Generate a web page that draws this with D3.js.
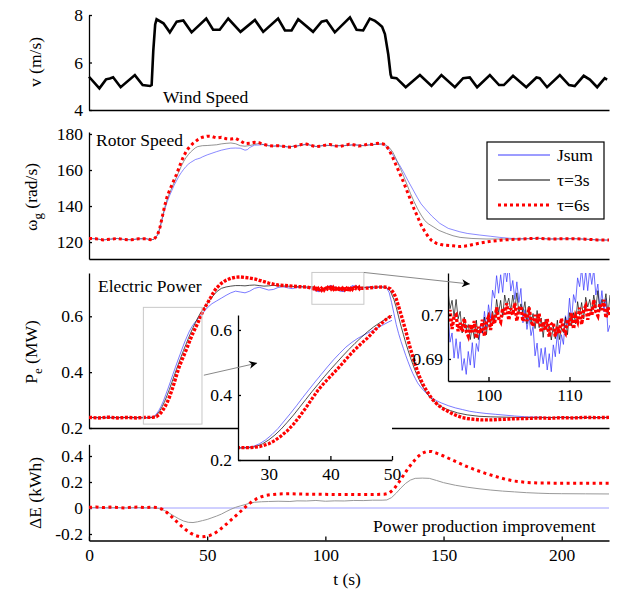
<!DOCTYPE html>
<html>
<head>
<meta charset="utf-8">
<script src="https://cdn.jsdelivr.net/npm/d3@7"></script>
<style>
  body { margin: 0; background: #fff; }
  text { font-family: "Liberation Serif", "Times New Roman", serif; font-size: 17.5px; fill: #000; }
  .axis path, .axis line { stroke: #000; stroke-width: 1.3; }
  .axis text { font-family: "Liberation Serif", "Times New Roman", serif; font-size: 17.5px; }
</style>
</head>
<body>
<svg id="chart" width="621" height="589"></svg>
<script>
// ---- data: [t (s), value] ----
const windSpeed = [[0,5.40],[4.4,4.91],[7.2,5.29],[8.8,5.33],[10.2,5.38],[13.4,4.96],[19.4,5.47],[22.7,5.05],[25.8,5.01],[26.5,5.05],[27.2,6.5],[28.0,7.6],[28.6,7.82],[31.5,7.65],[34.2,7.27],[37.1,7.72],[39.9,7.77],[43.4,7.27],[49.6,7.85],[52.5,7.38],[55.3,7.38],[58.9,7.85],[64.1,7.29],[70.2,7.79],[73.7,7.29],[80.0,7.85],[82.9,7.35],[85.7,7.35],[88.5,7.82],[94.8,7.29],[98.4,7.72],[100.5,7.77],[104.0,7.27],[110.4,7.90],[113.2,7.38],[116.0,7.35],[118.8,7.85],[121.0,7.75],[122.3,7.65],[124.0,7.50],[125.2,7.20],[126.6,6.35],[127.6,5.50],[128.0,5.37],[130.1,5.34],[134.0,4.96],[140.0,5.47],[144.9,5.01],[149.1,5.47],[154.8,4.96],[158.3,5.34],[161.1,5.37],[164.2,4.96],[169.6,5.47],[173.5,5.05],[175.5,5.05],[179.4,5.44],[185.0,4.96],[189.3,5.37],[190.7,5.34],[193.8,4.96],[199.2,5.47],[203.1,5.05],[205.5,5.01],[209.3,5.44],[211.9,5.28],[215.0,4.96],[218.2,5.34],[219.2,5.28]];

const rotorJsum = [[0,122.0],[3,121.8],[6,121.2],[9,121.6],[12,122.0],[15,121.4],[18,121.3],[21,121.8],[24,121.9],[26,121.3],[27.5,121.5],[29,123.8],[30,127.5],[31,133],[32,138],[33,142],[34,145.5],[35,148.5],[36,151.5],[37,154],[38,156.5],[39,158.5],[40,160.3],[41,161.9],[42,163.2],[43,164.2],[44,165],[45,165.8],[46,166.2],[47,166.6],[48,167.3],[50,168.4],[52,169.3],[54,170.2],[56,171],[58,171.6],[60,172.1],[62,172.2],[64,172.1],[66,171.0],[67,171.3],[68,172.5],[70,173.8],[72,173.9],[74,174.2],[76,173.6],[78,173.3],[80,173.5],[84,172.8],[88,173.4],[92,174.4],[96,173.0],[100,173.8],[104,173.4],[108,173.6],[112,174.0],[116,173.6],[120,174.2],[124,174.4],[125,173.8],[126.5,172],[128,169.5],[129.5,166.5],[131.5,162.5],[133,159],[135,154],[137.1,149],[139,144.5],[140.5,141.2],[142.7,137.8],[145,134.5],[148.4,130.4],[152,127.6],[156.9,125.7],[160,124.8],[165.3,123.9],[170,123.2],[173.8,122.6],[178,122.1],[182,121.8],[186,121.9],[190,122.1],[195,121.7],[200,121.8],[205,121.9],[210,121.6],[215,121.2],[220,121.1]];
const rotorTau3 = [[0,122.0],[3,121.8],[6,121.2],[9,121.6],[12,122.0],[15,121.4],[18,121.3],[21,121.8],[24,121.9],[26,121.3],[27.5,121.5],[29,124],[30,128],[31,133.5],[32,139],[33,143.5],[34,147],[35,150],[36,153],[37,156],[38,159],[39,162],[40,164.6],[41,166.8],[42,168.5],[43,170],[44,171.2],[45,172.3],[46,173.0],[48,173.5],[50,173.6],[52,173.8],[54,174.0],[56,174.5],[58,174.8],[60,175.0],[62,174.6],[64,173.5],[66,173.2],[68,173.6],[70,174.2],[72,174.8],[74,174.0],[76,173.4],[78,173.2],[80,173.4],[84,172.9],[88,173.3],[92,174.2],[96,173.1],[100,173.7],[104,173.5],[108,173.5],[112,174.0],[116,173.5],[120,174.1],[124,174.5],[125.5,174.0],[127,172.5],[128.5,170],[130,166],[131.5,161.5],[133,157],[134.5,152],[136,147],[137.5,142.5],[139,138.5],[140.5,135],[142,132],[143.5,130.2],[145.6,128.5],[148,126.5],[151.2,124.8],[154,123.5],[157,122.6],[162,122.0],[168,121.7],[174,121.7],[180,121.6],[186,121.9],[190,122.1],[195,121.7],[200,121.8],[205,121.9],[210,121.6],[215,121.2],[220,121.1]];
const rotorTau6 = [[0,122.0],[3,121.8],[6,121.2],[9,121.6],[12,122.0],[15,121.4],[18,121.3],[21,121.8],[24,121.9],[26,121.3],[27.5,121.5],[29,124],[30,128],[31,134],[32,140],[33,145],[34,148.5],[35,151.5],[36,154.5],[37,157.5],[38,161],[39,164.5],[40,167.5],[41,170],[42,172],[43,173.5],[44,174.8],[45,175.8],[46,176.8],[47,177.6],[48,178.2],[50,178.8],[52,178.6],[54,177.8],[56,178.2],[58,177.4],[60,177.2],[62,177.6],[64,176.2],[66,174.6],[68,174.8],[70,175.4],[72,175.1],[74,174.2],[76,173.6],[78,173.3],[80,173.5],[82,173.2],[84,172.8],[86,172.6],[88,173.4],[90,174.2],[92,174.4],[94,173.6],[96,173.0],[98,173.2],[100,173.8],[102,174.2],[104,173.4],[106,173.1],[108,173.6],[110,174.3],[112,174.0],[114,173.3],[116,173.6],[118,174.4],[120,174.2],[122,174.8],[124,174.6],[125.5,174.0],[127,171],[128.5,167],[130,162.5],[131.5,158],[133,153.5],[134.5,148.5],[136,143.5],[137.5,138.5],[139,134],[140.5,129.5],[142,126],[143.5,123],[145,120.8],[147,119.3],[149,118.6],[151,118.2],[154,117.9],[157,117.5],[160,117.9],[163,118.8],[166,119.6],[170,120.4],[174,121.0],[178,121.4],[182,121.6],[186,121.9],[190,122.1],[195,121.7],[200,121.8],[205,121.9],[210,121.6],[215,121.2],[220,121.1]];

// electric power, before and after the zoomed plateau
const powerJsumA = [[0,0.238],[4,0.236],[8,0.239],[12,0.236],[16,0.238],[20,0.236],[24,0.237],[26,0.238],[27.5,0.242],[28.5,0.250],[29.5,0.262],[30.5,0.278],[31.5,0.297],[32.5,0.320],[33.5,0.343],[34.5,0.367],[35.5,0.392],[36.5,0.416],[37.5,0.440],[38.5,0.463],[39.5,0.486],[40.5,0.508],[41.5,0.528],[42.5,0.547],[43.5,0.562],[44.5,0.575],[45.5,0.585],[46.5,0.595],[47.5,0.605],[48.5,0.615],[49.5,0.625],[50.5,0.634],[52,0.645],[54,0.655],[56,0.665],[58,0.675],[60,0.684],[62,0.690],[64,0.687],[66,0.684],[68,0.690],[70,0.700],[72,0.704],[74,0.699],[76,0.694],[78,0.696],[80,0.703],[82,0.706],[84,0.702],[86,0.699],[88,0.703],[90,0.706],[92,0.702]];
const powerJsumB = [[117,0.703],[119,0.707],[121,0.700],[123,0.706],[125,0.704],[126,0.700],[127,0.685],[128,0.650],[129,0.610],[130,0.570],[131,0.538],[132,0.510],[133,0.485],[134,0.460],[135,0.437],[136,0.415],[137,0.395],[138,0.378],[139,0.362],[140,0.350],[141.5,0.335],[143,0.322],[145,0.308],[147,0.298],[149,0.290],[152,0.280],[155,0.272],[158,0.266],[161,0.260],[164,0.256],[168,0.252],[172,0.249],[176,0.246],[180,0.243],[185,0.240],[190,0.239],[195,0.237],[200,0.238],[205,0.236],[210,0.238],[215,0.237],[220,0.238]];
const powerTau3A = [[0,0.237],[4,0.238],[8,0.236],[12,0.238],[16,0.237],[20,0.238],[24,0.236],[27,0.238],[28,0.242],[29,0.250],[30,0.262],[31,0.277],[32,0.295],[33,0.316],[34,0.338],[35,0.362],[36,0.386],[37,0.410],[38,0.433],[39,0.456],[40,0.478],[41,0.499],[42,0.520],[43,0.540],[44,0.559],[45,0.577],[46,0.594],[47,0.609],[48,0.622],[49,0.634],[50,0.645],[52,0.668],[54,0.688],[56,0.700],[58,0.705],[60,0.708],[62,0.710],[64,0.710],[66,0.709],[68,0.711],[70,0.712],[72,0.710],[74,0.708],[76,0.709],[78,0.711],[80,0.709],[84,0.708],[88,0.706],[92,0.705]];
const powerTau3B = [[118,0.703],[121,0.705],[124,0.705],[126,0.703],[127.5,0.690],[129,0.660],[130,0.632],[131,0.598],[132,0.565],[133,0.535],[134,0.505],[135,0.478],[136,0.452],[137,0.428],[138,0.405],[139,0.385],[140,0.367],[141,0.351],[142,0.337],[143,0.324],[144,0.313],[146,0.296],[148,0.282],[150,0.272],[153,0.262],[156,0.254],[160,0.247],[165,0.242],[170,0.240],[180,0.238],[190,0.237],[200,0.238],[210,0.237],[220,0.238]];
const powerTau6A = [[0,0.238],[4,0.236],[8,0.239],[12,0.236],[16,0.238],[20,0.236],[24,0.238],[27,0.238],[28.5,0.241],[30,0.250],[31,0.260],[32,0.274],[33,0.290],[34,0.310],[35,0.334],[36,0.360],[37,0.388],[38,0.415],[39,0.437],[40,0.457],[41,0.477],[42,0.498],[43,0.520],[44,0.540],[45,0.558],[46,0.575],[47,0.595],[48,0.615],[49,0.632],[50,0.645],[51,0.660],[52,0.675],[53,0.690],[54,0.702],[56,0.718],[58,0.729],[60,0.736],[62,0.740],[64,0.741],[66,0.739],[68,0.737],[70,0.734],[72,0.729],[74,0.724],[76,0.719],[78,0.715],[80,0.712],[83,0.710],[86,0.708],[89,0.706],[92,0.705]];
const powerTau6B = [[118,0.701],[121,0.704],[124,0.705],[126,0.704],[127.5,0.698],[129,0.683],[130,0.662],[131,0.635],[132,0.607],[133,0.578],[134,0.548],[135,0.515],[136,0.484],[137,0.455],[138,0.428],[139,0.403],[140,0.380],[141,0.361],[142,0.345],[143,0.332],[144,0.318],[145,0.306],[146,0.296],[147,0.288],[148,0.280],[150,0.268],[152,0.259],[154,0.250],[156,0.243],[158,0.237],[160,0.234],[163,0.231],[166,0.229],[170,0.229],[175,0.231],[180,0.233],[185,0.234],[190,0.236],[195,0.235],[200,0.237],[205,0.236],[210,0.238],[215,0.237],[220,0.238]];

// plateau 95..115 s sampled every 0.25 s (zoom inset)
const zoomT = d3.range(95, 115.001, 0.25);
const zoomJsum = [0.7002,0.6938,0.6959,0.6902,0.6946,0.6901,0.6939,0.6874,0.6901,0.6865,0.6917,0.6886,0.6937,0.6880,0.6935,0.6917,0.6975,0.6958,0.7008,0.6968,0.7023,0.6992,0.7056,0.7038,0.7089,0.7049,0.7091,0.7051,0.7109,0.7075,0.7118,0.7054,0.7078,0.7035,0.7075,0.7028,0.7060,0.6982,0.7012,0.6967,0.6997,0.6953,0.6974,0.6907,0.6936,0.6881,0.6924,0.6889,0.6926,0.6875,0.6912,0.6871,0.6932,0.6905,0.6960,0.6912,0.6955,0.6933,0.6998,0.6978,0.7038,0.6987,0.7046,0.7028,0.7084,0.7064,0.7106,0.7056,0.7099,0.7055,0.7103,0.7069,0.7103,0.7045,0.7070,0.7013,0.7055,0.7007,0.7037,0.6962,0.6977];
const zoomTau3 = [0.7055,0.7014,0.7033,0.6996,0.7035,0.6991,0.7008,0.6959,0.6995,0.6966,0.6978,0.6944,0.6975,0.6946,0.6988,0.6944,0.6970,0.6960,0.6995,0.6955,0.7005,0.6976,0.7008,0.6984,0.7035,0.7004,0.7033,0.6996,0.7045,0.7021,0.7038,0.7009,0.7045,0.7013,0.7050,0.7003,0.7025,0.7005,0.7030,0.6980,0.7020,0.6981,0.7003,0.6969,0.7010,0.6971,0.6993,0.6949,0.6990,0.6963,0.6975,0.6943,0.6975,0.6946,0.6988,0.6944,0.6970,0.6960,0.6995,0.6955,0.7005,0.6975,0.7005,0.6980,0.7030,0.6999,0.7028,0.6991,0.7040,0.7018,0.7035,0.7008,0.7045,0.7015,0.7055,0.7010,0.7035,0.7019,0.7048,0.7001,0.7045];
const zoomTau6 = [0.6985,0.7011,0.6968,0.6996,0.7000,0.6963,0.6982,0.6962,0.6992,0.6963,0.6952,0.6978,0.6961,0.6986,0.6947,0.6973,0.6958,0.6989,0.6952,0.6985,0.6995,0.6966,0.6992,0.6979,0.7017,0.6992,0.6984,0.7015,0.7001,0.7026,0.6988,0.7015,0.7000,0.7027,0.6986,0.7014,0.7020,0.6985,0.7004,0.6986,0.7017,0.6987,0.6974,0.7000,0.6981,0.7003,0.6960,0.6984,0.6965,0.6991,0.6950,0.6978,0.6983,0.6951,0.6973,0.6958,0.6992,0.6967,0.6959,0.6990,0.6976,0.7004,0.6968,0.6997,0.6985,0.7016,0.6978,0.7011,0.7020,0.6989,0.7013,0.6998,0.7034,0.7007,0.6998,0.7026,0.7011,0.7034,0.6993,0.7017,0.7000];

// energy difference (kWh)
const energyJsum = [[0,0],[220,0]];
const energyTau3 = [[0,0.003],[4,0.005],[8,0.002],[12,0.004],[16,0.001],[20,0.004],[24,0.002],[28,0.001],[30,-0.005],[32,-0.020],[34,-0.040],[36,-0.062],[38,-0.083],[40,-0.100],[42,-0.110],[44,-0.112],[46,-0.106],[48,-0.097],[50,-0.088],[52,-0.075],[54,-0.062],[56,-0.047],[58,-0.028],[60,-0.010],[62,0.005],[64,0.016],[66,0.026],[68,0.037],[70,0.044],[73,0.048],[76,0.050],[80,0.052],[85,0.050],[88,0.055],[92,0.054],[96,0.058],[100,0.052],[104,0.055],[108,0.054],[112,0.058],[116,0.057],[120,0.060],[124,0.060],[126,0.062],[128,0.080],[130,0.115],[132,0.155],[134,0.190],[136,0.215],[138,0.228],[141,0.230],[144,0.228],[147,0.212],[150,0.195],[155,0.175],[160,0.160],[165,0.148],[170,0.138],[175,0.130],[180,0.124],[185,0.118],[190,0.114],[195,0.111],[200,0.110],[210,0.109],[220,0.108]];
const energyTau6 = [[0,0.005],[3,0.008],[6,0.003],[9,0.007],[12,0.004],[15,0.000],[18,0.006],[21,0.007],[24,0.003],[27,0.006],[29,0.004],[31,-0.010],[33,-0.035],[35,-0.068],[37,-0.103],[39,-0.137],[41,-0.168],[43,-0.193],[45,-0.212],[47,-0.222],[49,-0.220],[51,-0.212],[53,-0.196],[55,-0.172],[57,-0.142],[59,-0.110],[61,-0.078],[63,-0.045],[65,-0.012],[67,0.022],[69,0.050],[71,0.072],[73,0.087],[75,0.097],[77,0.103],[80,0.108],[85,0.110],[90,0.107],[95,0.106],[100,0.105],[105,0.104],[110,0.104],[115,0.103],[120,0.103],[125,0.106],[127,0.115],[129,0.145],[131,0.195],[133,0.250],[135,0.305],[137,0.352],[139,0.393],[141,0.422],[143,0.436],[145,0.434],[147,0.422],[150,0.400],[153,0.375],[156,0.350],[160,0.318],[164,0.290],[168,0.265],[172,0.243],[176,0.222],[180,0.207],[185,0.197],[190,0.192],[200,0.191],[210,0.191],[220,0.191]];

const xTicks = [0, 50, 100, 150, 200];
const legendLabels = ['Jsum', 'τ=3s', 'τ=6s'];

// ---- build full power series ----
const zip = vals => zoomT.map((t, i) => [t, vals[i]]);
const powerJsum = powerJsumA.concat(zip(zoomJsum), powerJsumB);
const powerTau3 = powerTau3A.concat(zip(zoomTau3), powerTau3B);
const powerTau6 = powerTau6A.concat(zip(zoomTau6), powerTau6B);

const svg = d3.select('#chart');
const x = d3.scaleLinear().domain([0, 220]).range([89, 609]);

const blue = '#3b3bff', red = '#ff0000';

svg.append('defs').append('marker')
    .attr('id', 'arrow').attr('viewBox', '0 0 10 10')
    .attr('refX', 10).attr('refY', 5)
    .attr('markerWidth', 11).attr('markerHeight', 8)
    .attr('markerUnits', 'userSpaceOnUse')
    .attr('orient', 'auto')
  .append('path').attr('d', 'M0,0 L10,5 L0,10 L3,5 Z').attr('fill', '#000');

function clip(id, x0, y0, w, h) {
  svg.select('defs').append('clipPath').attr('id', id)
    .append('rect').attr('x', x0).attr('y', y0).attr('width', w).attr('height', h);
}

function drawLine(g, data, xs, ys, color, width, dash, opacity) {
  g.append('path')
    .datum(data)
    .attr('fill', 'none')
    .attr('stroke', color)
    .attr('stroke-width', width)
    .attr('stroke-dasharray', dash || null)
    .attr('stroke-opacity', opacity || 1)
    .attr('d', d3.line().x(d => xs(d[0])).y(d => ys(d[1])));
}

function axes(g, xs, ys, yTicks, opts) {
  const fmt = d => String(d);
  const bottom = ys.range()[0], left = xs.range()[0];
  g.append('g').attr('class', 'axis')
    .attr('transform', `translate(0,${bottom})`)
    .call(d3.axisBottom(xs).tickValues(opts.xTicks || []).tickSize(-4).tickSizeOuter(0).tickPadding(8).tickFormat(fmt));
  g.append('g').attr('class', 'axis')
    .attr('transform', `translate(${left},0)`)
    .call(d3.axisLeft(ys).tickValues(yTicks).tickSize(-3).tickSizeOuter(0).tickPadding(opts.pad || 6).tickFormat(fmt));
  g.selectAll('.axis text').attr('fill', '#000');
}

function yTitle(cx, cy, parts) {
  const t = svg.append('text')
    .attr('transform', `translate(${cx},${cy}) rotate(-90)`)
    .attr('text-anchor', 'middle');
  parts.forEach(p => {
    t.append('tspan').text(p.s)
      .attr('dy', p.dy || 0)
      .style('font-size', p.size ? p.size + 'px' : null);
  });
}

// ---- panel 1: wind speed ----
const y1 = d3.scaleLinear().domain([4, 8]).range([110, 15]);
const p1 = svg.append('g');
axes(p1, x, y1, [4, 6, 8], {});
drawLine(p1, windSpeed, x, y1, '#000', 2.6);
p1.append('text').attr('x', 163).attr('y', 103).text('Wind Speed');
yTitle(41, 62, [{s: 'v (m/s)'}]);

// ---- panel 2: rotor speed ----
const y2 = d3.scaleLinear().domain([110.6, 181.1]).range([259, 132]);
const p2 = svg.append('g');
clip('c2', 89, 132, 520, 127);
axes(p2, x, y2, [120, 140, 160, 180], {});
const l2 = p2.append('g').attr('clip-path', 'url(#c2)');
drawLine(l2, rotorJsum, x, y2, blue, 0.8, null, 0.75);
drawLine(l2, rotorTau3, x, y2, '#555', 0.8, null, 0.8);
drawLine(l2, rotorTau6, x, y2, red, 3, '3,3');
p2.append('text').attr('x', 96).attr('y', 146).text('Rotor Speed');
yTitle(37, 197, [{s: 'ω'}, {s: 'g', dy: 5, size: 13}, {s: ' (rad/s)', dy: -5}]);

// legend
const leg = svg.append('g').attr('transform', 'translate(487,142)');
leg.append('rect').attr('width', 117).attr('height', 77).attr('fill', '#fff').attr('stroke', '#000').attr('stroke-width', 1.2);
const legStyle = [[blue, 1, null], ['#000', 1, null], [red, 3, '3,3']];
legendLabels.forEach((lab, i) => {
  const yy = 13 + i * 25;
  leg.append('line').attr('x1', 11).attr('x2', 63).attr('y1', yy).attr('y2', yy)
    .attr('stroke', legStyle[i][0]).attr('stroke-width', legStyle[i][1])
    .attr('stroke-dasharray', legStyle[i][2]);
  leg.append('text').attr('x', 70).attr('y', yy + 6).text(lab);
});

// ---- panel 3: electric power ----
const y3 = d3.scaleLinear().domain([0.2, 0.755]).range([428, 273]);
const p3 = svg.append('g');
clip('c3', 89, 268, 520, 160);
axes(p3, x, y3, [0.2, 0.4, 0.6], {});
const l3 = p3.append('g').attr('clip-path', 'url(#c3)');
drawLine(l3, powerJsum, x, y3, blue, 0.8, null, 0.85);
drawLine(l3, powerTau3, x, y3, '#222', 0.8);
drawLine(l3, powerTau6, x, y3, red, 3.4, '3,1.5');
p3.append('text').attr('x', 98).attr('y', 292).text('Electric Power');
yTitle(37, 352, [{s: 'P'}, {s: 'e', dy: 5, size: 13}, {s: ' (MW)', dy: -5}]);

// zoom boxes on the main power plot
p3.append('rect')
  .attr('x', x(23)).attr('y', y3(0.632))
  .attr('width', x(47.8) - x(23)).attr('height', y3(0.214) - y3(0.632))
  .attr('fill', 'none').attr('stroke', '#c8c8c8').attr('stroke-width', 1);
p3.append('rect')
  .attr('x', x(94.3)).attr('y', y3(0.757))
  .attr('width', x(116.3) - x(94.3)).attr('height', y3(0.643) - y3(0.757))
  .attr('fill', 'none').attr('stroke', '#c8c8c8').attr('stroke-width', 1);

// ---- panel 4: energy ----
const y4 = d3.scaleLinear().domain([-0.25, 0.49]).range([540.5, 444.3]);
const p4 = svg.append('g');
axes(p4, x, y4, [-0.2, 0, 0.2, 0.4], {xTicks: xTicks});
drawLine(p4, energyJsum, x, y4, '#a0a0ff', 1);
drawLine(p4, energyTau3, x, y4, '#999', 1);
drawLine(p4, energyTau6, x, y4, red, 3, '3,3.5');
p4.append('text').attr('x', 373).attr('y', 532).text('Power production improvement');
yTitle(41, 493, [{s: 'ΔE (kWh)'}]);
svg.append('text').attr('x', 347).attr('y', 585).attr('text-anchor', 'middle').text('t (s)');

// ---- inset 1: rise 25..50 s ----
const xi1 = d3.scaleLinear().domain([25, 50]).range([238, 392]);
const yi1 = d3.scaleLinear().domain([0.2, 0.646]).range([460, 315]);
const in1 = svg.append('g');
in1.append('rect').attr('x', 238).attr('y', 315).attr('width', 154).attr('height', 145).attr('fill', '#fff');
clip('ci1', 238, 315, 154, 145);
const li1 = in1.append('g').attr('clip-path', 'url(#ci1)');
drawLine(li1, powerJsum, xi1, yi1, blue, 0.8, null, 0.85);
drawLine(li1, powerTau3, xi1, yi1, '#222', 0.8);
drawLine(li1, powerTau6, xi1, yi1, red, 3.2, '3,1.5');
axes(in1, xi1, yi1, [0.2, 0.4, 0.6], {xTicks: [30, 40, 50]});

// ---- inset 2: plateau 95..115 s ----
const xi2 = d3.scaleLinear().domain([95, 115]).range([448, 610]);
const yi2 = d3.scaleLinear().domain([0.685, 0.7095]).range([381, 273]);
const in2 = svg.append('g');
in2.append('rect').attr('x', 448).attr('y', 273).attr('width', 162).attr('height', 108).attr('fill', '#fff');
clip('ci2', 448, 273, 162, 108);
const li2 = in2.append('g').attr('clip-path', 'url(#ci2)');
drawLine(li2, zip(zoomJsum), xi2, yi2, blue, 1, null, 0.75);
drawLine(li2, zip(zoomTau3), xi2, yi2, '#000', 0.9, null, 0.75);
drawLine(li2, zip(zoomTau6), xi2, yi2, red, 3.4, '3,2');
axes(in2, xi2, yi2, [0.69, 0.7], {xTicks: [100, 110], pad: 5});

// connectors
svg.append('line')
  .attr('x1', x(48.6)).attr('y1', y3(0.389))
  .attr('x2', xi1(28.1)).attr('y2', yi1(0.498))
  .attr('stroke', '#888').attr('stroke-width', 1).attr('marker-end', 'url(#arrow)');
svg.append('line')
  .attr('x1', x(116.3)).attr('y1', y3(0.757))
  .attr('x2', xi2(97.7)).attr('y2', yi2(0.707))
  .attr('stroke', '#888').attr('stroke-width', 1).attr('marker-end', 'url(#arrow)');
</script>
</body>
</html>
